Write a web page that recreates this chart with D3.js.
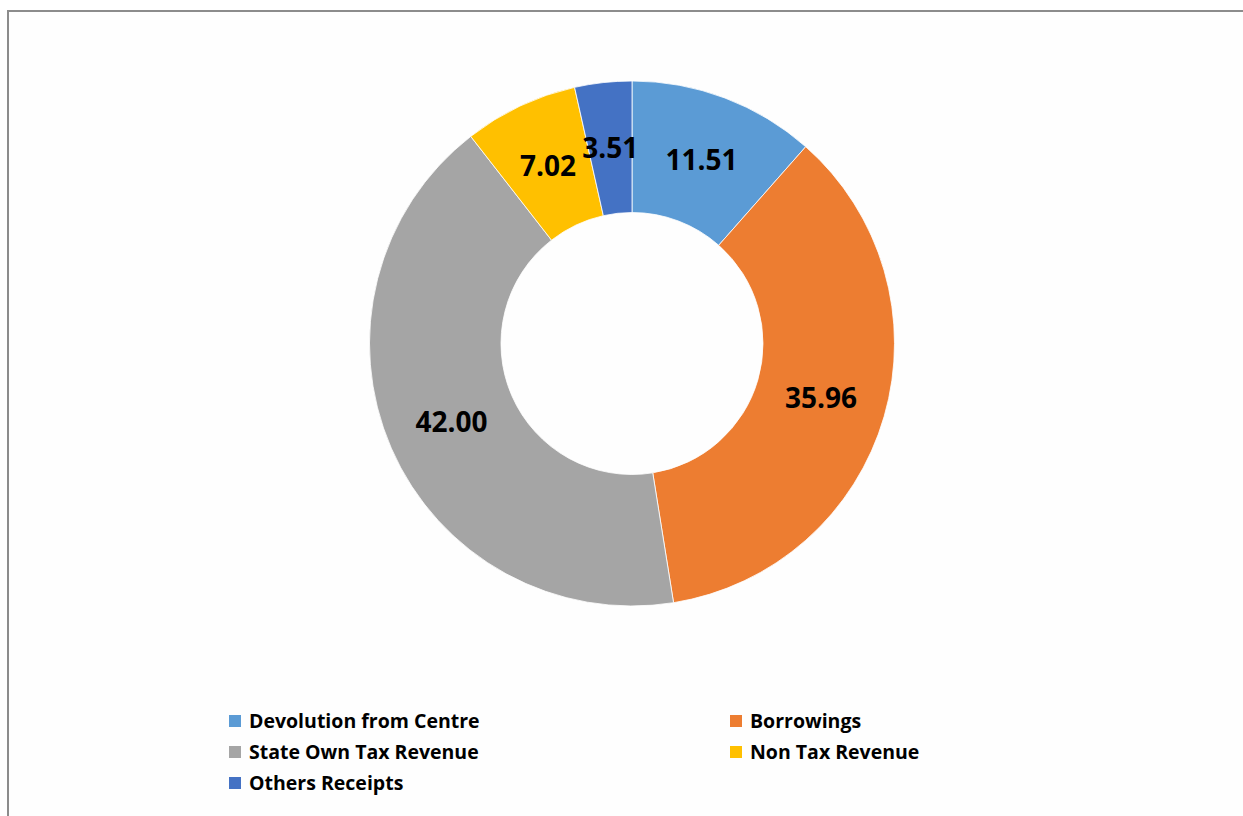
<!DOCTYPE html>
<html>
<head>
<meta charset="utf-8">
<script src="https://cdn.jsdelivr.net/npm/d3@7"></script>
<style>
  body { margin: 0; background: #ffffff; }
  svg { display: block; }
</style>
</head>
<body>
<svg id="chart" width="1243" height="816"></svg>
<script>
// receipts share (per cent), clockwise from 12 o'clock
var categories = ["Devolution from Centre", "Borrowings", "State Own Tax Revenue", "Non Tax Revenue", "Others Receipts"];
var shares = [11.51, 35.96, 42.00, 7.02, 3.51];
var colors = ["#5B9BD5", "#ED7D31", "#A5A5A5", "#FFC000", "#4472C4"];

var svg = d3.select("#chart");
var width = 1243;
var height = 816;

// chart frame, runs off the right and bottom edge
svg.append("rect")
  .attr("x", 8)
  .attr("y", 11)
  .attr("width", width + 20)
  .attr("height", height + 20)
  .attr("fill", "#fefefe")
  .attr("stroke", "#8c8c8c")
  .attr("stroke-width", 2);

var cx = 632;
var cy = 343.5;
var outerR = 262.5;
var innerR = 131;

var data = categories.map(function(c, i) {
  return { name: c, value: shares[i], color: colors[i] };
});

var pie = d3.pie()
  .sort(null)
  .value(function(d) { return d.value; });

var arc = d3.arc()
  .innerRadius(innerR)
  .outerRadius(outerR);

var labelArc = d3.arc()
  .innerRadius((innerR + outerR) / 2)
  .outerRadius((innerR + outerR) / 2);

var g = svg.append("g")
  .attr("transform", "translate(" + cx + "," + cy + ")");

var arcs = pie(data);

g.selectAll("path")
  .data(arcs)
  .enter().append("path")
  .attr("d", arc)
  .attr("fill", function(d) { return d.data.color; })
  .attr("stroke", "#ffffff")
  .attr("stroke-width", 0.8);

g.selectAll("text")
  .data(arcs)
  .enter().append("text")
  .attr("transform", function(d) { return "translate(" + labelArc.centroid(d) + ")"; })
  .attr("text-anchor", "middle")
  .attr("dy", "0.36em")
  .style("font-family", "'Open Sans', sans-serif")
  .style("font-weight", "bold")
  .style("font-size", "28px")
  .attr("fill", "#000000")
  .text(function(d) { return d3.format(".2f")(d.data.value); });

// legend, two columns
var legendCols = [229, 730];
var legendRows = [721, 752, 783];

var legend = svg.append("g");
var items = legend.selectAll("g")
  .data(data)
  .enter().append("g")
  .attr("transform", function(d, i) {
    return "translate(" + legendCols[i % 2] + "," + legendRows[Math.floor(i / 2)] + ")";
  });

items.append("rect")
  .attr("x", 0)
  .attr("y", -6)
  .attr("width", 12)
  .attr("height", 12)
  .attr("fill", function(d) { return d.color; });

items.append("text")
  .attr("x", 20)
  .attr("dy", "0.36em")
  .style("font-family", "'Open Sans', sans-serif")
  .style("font-weight", "bold")
  .style("font-size", "19.5px")
  .attr("fill", "#000000")
  .text(function(d) { return d.name; });
</script>
</body>
</html>
